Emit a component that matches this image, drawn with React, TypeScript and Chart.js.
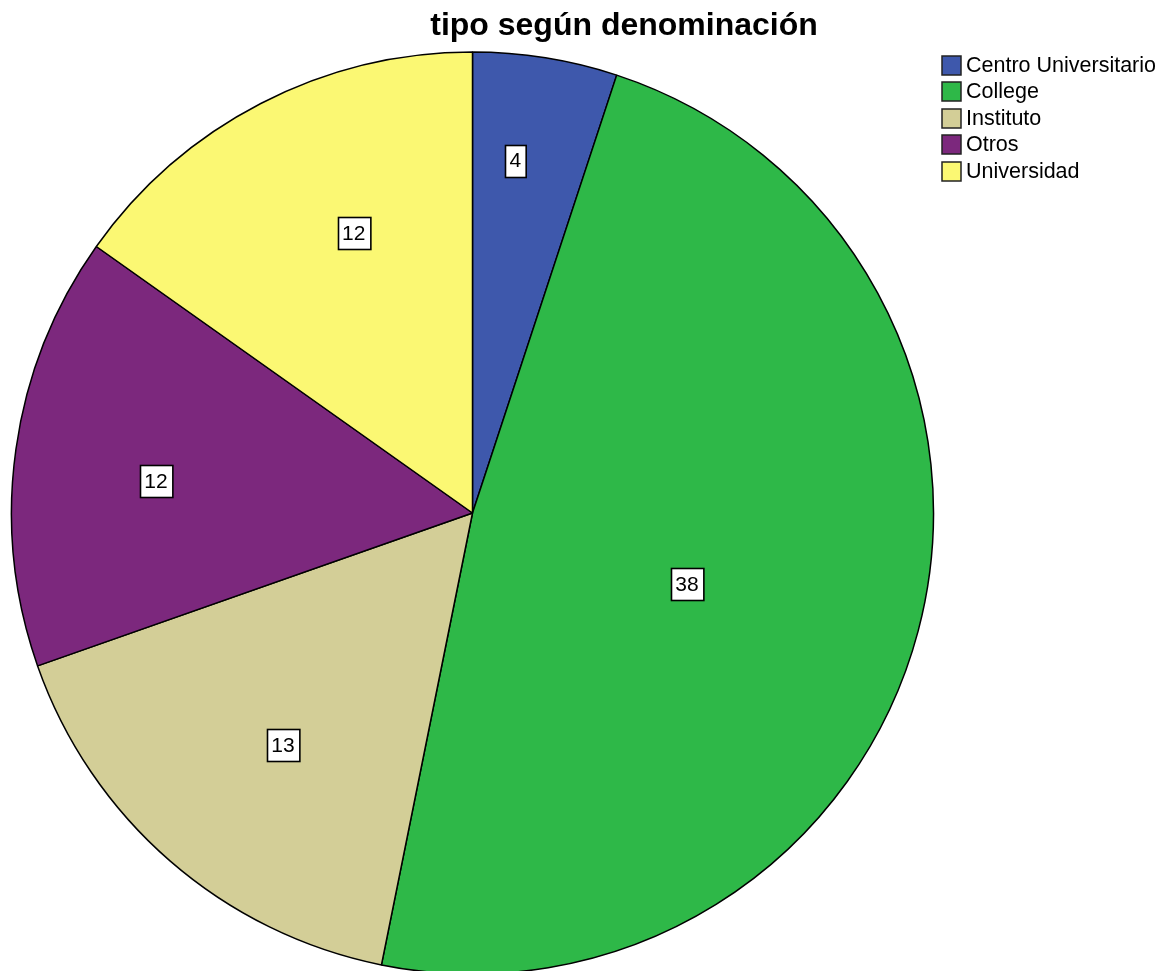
import React, { useEffect, useRef } from "react";
import { Chart, registerables } from "chart.js";

Chart.register(...registerables);

const TITLE = "tipo según denominación";
const categories = ["Centro Universitario", "College", "Instituto", "Otros", "Universidad"];
const counts = [4, 38, 13, 12, 12];
const colors = ["#3E58AC", "#2EB848", "#D3CE97", "#7C287D", "#FBF873"];
// label placement style: fraction along slice angle, fraction of radius
const labelAngleFrac = [0.38, 0.52, 0.47, 0.46, 0.58];
const labelRadiusFrac = [0.77, 0.49, 0.65, 0.69, 0.66];

const overlayPlugin = {
  id: "overlay",
  afterDatasetsDraw(chart: any) {
    const ctx = chart.ctx as CanvasRenderingContext2D;
    const meta = chart.getDatasetMeta(0);
    ctx.save();
    // value labels
    ctx.font = "21px 'Liberation Sans', Arial, sans-serif";
    ctx.textAlign = "center";
    ctx.textBaseline = "middle";
    meta.data.forEach((arc: any, i: number) => {
      const p = arc.getProps(["x", "y", "startAngle", "endAngle", "outerRadius"], true);
      const a = p.startAngle + (p.endAngle - p.startAngle) * labelAngleFrac[i];
      const r = p.outerRadius * labelRadiusFrac[i];
      const cx = p.x + Math.cos(a) * r;
      const cy = p.y + Math.sin(a) * r;
      const txt = String(counts[i]);
      const w = ctx.measureText(txt).width + 9;
      const h = 32;
      const bx = Math.round(cx - w / 2) + 0.5;
      const by = Math.round(cy - h / 2) + 0.5;
      ctx.fillStyle = "#ffffff";
      ctx.fillRect(bx, by, w, h);
      ctx.strokeStyle = "#000000";
      ctx.lineWidth = 1.6;
      ctx.strokeRect(bx, by, w, h);
      ctx.fillStyle = "#000000";
      ctx.fillText(txt, cx, cy + 1);
    });
    // title
    ctx.font = "bold 32px 'Liberation Sans', Arial, sans-serif";
    ctx.textAlign = "center";
    ctx.textBaseline = "alphabetic";
    ctx.fillStyle = "#000000";
    ctx.fillText(TITLE, 624, 35);
    // legend
    ctx.font = "21.5px 'Liberation Sans', Arial, sans-serif";
    ctx.textAlign = "left";
    ctx.textBaseline = "middle";
    categories.forEach((c, i) => {
      const yc = 65 + i * 26.5;
      ctx.fillStyle = colors[i];
      ctx.fillRect(942, Math.round(yc - 9.5), 19, 19);
      ctx.strokeStyle = "#222222";
      ctx.lineWidth = 1.5;
      ctx.strokeRect(942, Math.round(yc - 9.5), 19, 19);
      ctx.fillStyle = "#000000";
      ctx.fillText(c, 966, yc + 1);
    });
    ctx.restore();
  },
};

export default function App() {
  const ref = useRef<HTMLCanvasElement>(null);
  useEffect(() => {
    if (!ref.current) return;
    const chart = new Chart(ref.current, {
      type: "pie",
      data: {
        labels: categories,
        datasets: [
          {
            data: counts,
            backgroundColor: colors,
            borderColor: "#000000",
            borderWidth: 1.5,
            clip: false,
          } as any,
        ],
      },
      options: {
        animation: false,
        responsive: false,
        maintainAspectRatio: false,
        radius: 461,
        layout: { padding: { left: 0, right: 217, top: 55, bottom: 0 } },
        plugins: {
          legend: { display: false },
          title: { display: false },
          tooltip: { enabled: false },
        },
      } as any,
      plugins: [overlayPlugin],
    });
    return () => chart.destroy();
  }, []);
  return (
    <div style={{ position: "absolute", left: 0, top: 0, width: 1162, height: 971, overflow: "hidden", background: "#fff" }}>
      <canvas ref={ref} width={1162} height={971} style={{ width: 1162, height: 971 }} />
    </div>
  );
}
